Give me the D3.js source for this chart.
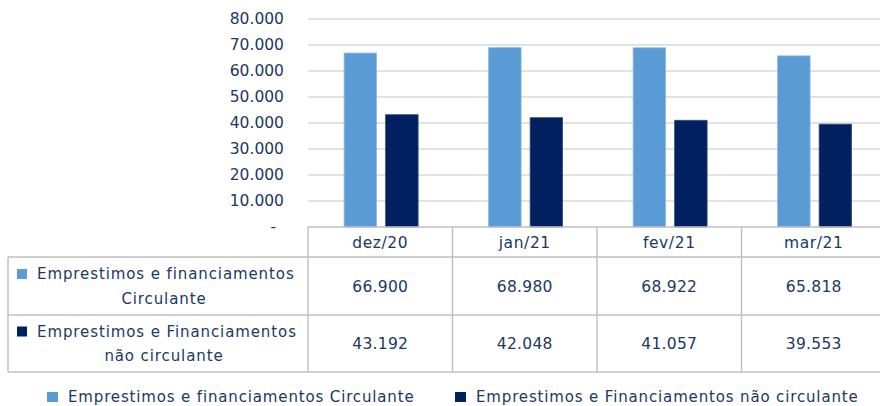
<!DOCTYPE html>
<html>
<head>
<meta charset="utf-8">
<script src="https://cdn.jsdelivr.net/npm/d3@7"></script>
<style>
  html, body { margin: 0; padding: 0; background: #fff; }
  svg { display: block; font-family: "DejaVu Sans", sans-serif; }
</style>
</head>
<body>
<svg id="chart" width="880" height="406"></svg>
<script>
const categories = ["dez/20", "jan/21", "fev/21", "mar/21"];
const seriesNames = ["Emprestimos e financiamentos Circulante", "Emprestimos e Financiamentos não circulante"];
const tableLabels = [["Emprestimos e financiamentos", "Circulante"], ["Emprestimos e Financiamentos", "não circulante"]];
const circulante = [66900, 68980, 68922, 65818];
const naoCirculante = [43192, 42048, 41057, 39553];
const yTicks = [0, 10000, 20000, 30000, 40000, 50000, 60000, 70000, 80000];
const colors = ["#5B9BD5", "#002060"];

(function () {
const series = [circulante, naoCirculante];
const textColor = "#203864";
const fmt = v => v === 0 ? "-" : d3.format(",.0f")(v).replace(/,/g, ".");

const svg = d3.select("#chart");
const pLeft = 308, pRight = 886, pTop = 19, pBottom = 227;

const x = d3.scaleBand().domain(categories).range([pLeft, pRight]).padding(0);
const bw = x.bandwidth();
const x1 = d3.scaleBand().domain([0, 1]).range([bw * 0.25, bw * 0.762]).paddingInner(0.217);
const y = d3.scaleLinear().domain([0, 80000]).range([pBottom, pTop]);

// gridlines
svg.append("g").selectAll("line").data(yTicks.filter(t => t > 0)).join("line")
  .attr("x1", pLeft).attr("x2", pRight)
  .attr("y1", d => y(d)).attr("y2", d => y(d))
  .attr("stroke", "#D9D9D9").attr("stroke-width", 1.4);

// y axis labels
const yAxis = d3.axisLeft(y).tickValues(yTicks).tickSize(0).tickPadding(0).tickFormat(fmt);
const ya = svg.append("g").attr("transform", "translate(284,0)").call(yAxis);
ya.select(".domain").remove();
ya.selectAll("text").attr("fill", textColor).style("font-size", "15.5px")
  .style("font-family", "'DejaVu Sans', sans-serif");
ya.selectAll(".tick").filter(d => d === 0).select("text").attr("x", -8);

// bars
const groups = svg.append("g").selectAll("g").data(categories).join("g")
  .attr("transform", d => `translate(${x(d)},0)`);
groups.selectAll("rect").data((d, i) => series.map((s, k) => ({ k, v: s[i] }))).join("rect")
  .attr("x", d => x1(d.k))
  .attr("width", x1.bandwidth())
  .attr("y", d => y(d.v))
  .attr("height", d => y(0) - y(d.v))
  .attr("fill", d => colors[d.k])
  .attr("stroke", d => d.k === 0 ? "#8DBAE3" : "#3A4F7A")
  .attr("stroke-width", 0.8);

// data table
const rowTops = [227, 257, 315, 372];
const lineColor = "#BFBFBF";
const tg = svg.append("g");
tg.append("line").attr("x1", pLeft).attr("x2", pRight).attr("y1", rowTops[0]).attr("y2", rowTops[0])
  .attr("stroke", lineColor).attr("stroke-width", 1.4);
rowTops.slice(1).forEach(yy => {
  tg.append("line").attr("x1", 8).attr("x2", pRight).attr("y1", yy).attr("y2", yy)
    .attr("stroke", lineColor).attr("stroke-width", 1.4);
});
categories.forEach(c => {
  tg.append("line").attr("x1", x(c)).attr("x2", x(c)).attr("y1", rowTops[0]).attr("y2", rowTops[3])
    .attr("stroke", lineColor).attr("stroke-width", 1.4);
});
tg.append("line").attr("x1", pRight).attr("x2", pRight).attr("y1", rowTops[0]).attr("y2", rowTops[3])
  .attr("stroke", lineColor).attr("stroke-width", 1.4);
tg.append("line").attr("x1", 8).attr("x2", 8).attr("y1", rowTops[1]).attr("y2", rowTops[3])
  .attr("stroke", lineColor).attr("stroke-width", 1.4);

// header
tg.selectAll("text.hdr").data(categories).join("text").attr("class", "hdr")
  .attr("x", d => x(d) + bw / 2).attr("y", (rowTops[0] + rowTops[1]) / 2 + 1)
  .attr("dy", "0.35em").attr("text-anchor", "middle")
  .attr("fill", textColor).style("font-size", "15.5px").style("letter-spacing", "0.6px").text(d => d);

series.forEach((s, k) => {
  const cy = (rowTops[k + 1] + rowTops[k + 2]) / 2;
  tg.selectAll(null).data(s).join("text")
    .attr("x", (d, i) => x(categories[i]) + bw / 2).attr("y", cy + 0.5)
    .attr("dy", "0.35em").attr("text-anchor", "middle")
    .attr("fill", textColor).style("font-size", "15.5px").style("letter-spacing", "0.3px").text(d => fmt(d));
  tg.append("rect").attr("x", 17).attr("y", cy - 17).attr("width", 10).attr("height", 10)
    .attr("fill", colors[k]);
  tg.append("text").attr("x", 37).attr("y", cy - 12)
    .attr("dy", "0.35em").attr("text-anchor", "start")
    .attr("fill", textColor).style("font-size", "15px").style("letter-spacing", "0.9px").text(tableLabels[k][0]);
  tg.append("text").attr("x", 164).attr("y", cy + 12.5)
    .attr("dy", "0.35em").attr("text-anchor", "middle")
    .attr("fill", textColor).style("font-size", "15px").style("letter-spacing", "0.9px").text(tableLabels[k][1]);
});

// legend
const legendX = [47, 455];
const lg = svg.append("g").selectAll("g").data(seriesNames).join("g")
  .attr("transform", (d, i) => `translate(${legendX[i]},397)`);
lg.append("rect").attr("x", 0).attr("y", -5).attr("width", 11).attr("height", 10)
  .attr("fill", (d, i) => colors[i]);
lg.append("text").attr("x", 21).attr("y", 0).attr("dy", "0.35em")
  .attr("fill", textColor).style("font-size", "15px").style("letter-spacing", "0.85px").text(d => d);
})();
</script>
</body>
</html>
